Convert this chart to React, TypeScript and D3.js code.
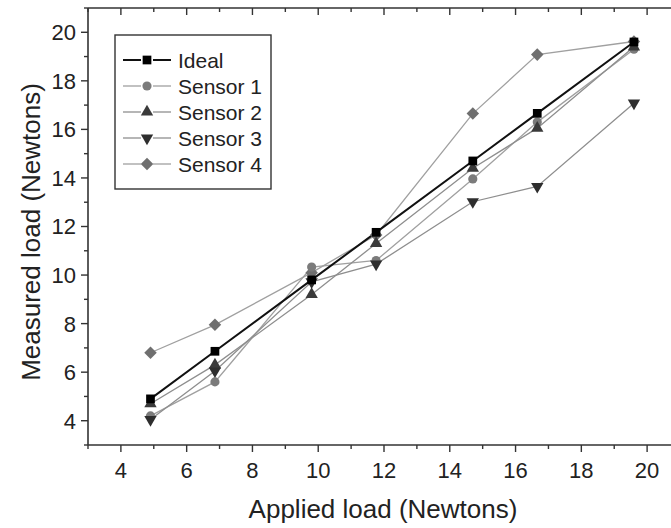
import React from "react";
import * as d3 from "d3";

const applied = [4.9, 6.86, 9.8, 11.76, 14.7, 16.66, 19.6];
const ideal = [4.9, 6.86, 9.8, 11.76, 14.7, 16.66, 19.6];
const sensor1 = [4.2, 5.6, 10.33, 10.6, 13.96, 16.3, 19.3];
const sensor2 = [4.7, 6.3, 9.2, 11.3, 14.4, 16.05, 19.4];
const sensor3 = [4.05, 6.05, 9.72, 10.45, 13.02, 13.65, 17.08];
const sensor4 = [6.8, 7.95, 10.1, 11.65, 16.65, 19.08, 19.62];
const seriesNames = ["Ideal", "Sensor 1", "Sensor 2", "Sensor 3", "Sensor 4"];
const xTickValues = [4, 6, 8, 10, 12, 14, 16, 18, 20];
const yTickValues = [4, 6, 8, 10, 12, 14, 16, 18, 20];

const W = 671;
const H = 528;
const FONT = "'Liberation Sans', Arial, Helvetica, sans-serif";

type Series = {
  name: string;
  values: number[];
  symbol: d3.SymbolType;
  size: number;
  rotate: number;
  fill: string;
  line: string;
  lw: number;
};

const series: Series[] = [
  { name: seriesNames[4], values: sensor4, symbol: d3.symbolDiamond2, size: 100, rotate: 0, fill: "#6f6f6f", line: "#a0a0a0", lw: 1.3 },
  { name: seriesNames[1], values: sensor1, symbol: d3.symbolCircle, size: 66, rotate: 0, fill: "#7b7b7b", line: "#a0a0a0", lw: 1.3 },
  { name: seriesNames[2], values: sensor2, symbol: d3.symbolTriangle, size: 66, rotate: 0, fill: "#3a3a3a", line: "#8e8e8e", lw: 1.3 },
  { name: seriesNames[3], values: sensor3, symbol: d3.symbolTriangle, size: 66, rotate: 180, fill: "#2e2e2e", line: "#8e8e8e", lw: 1.3 },
  { name: seriesNames[0], values: ideal, symbol: d3.symbolSquare, size: 76, rotate: 0, fill: "#000000", line: "#111111", lw: 2 },
];

const legendOrder = [0, 1, 2, 3, 4];

export default function App() {
  const x = d3.scaleLinear().domain([3, 21]).range([88, 680]);
  const y = d3.scaleLinear().domain([3, 21]).range([445, 8]);
  const minorX = d3.range(3, 22, 1);
  const minorY = d3.range(3, 22, 1);
  const lineGen = (vals: number[]) =>
    d3.line<number>().x((_, i) => x(applied[i])).y((v) => y(v))(vals) || "";
  const axisColor = "#333";

  return (
    <svg width={W} height={H} style={{ position: "absolute", left: 0, top: 0, background: "#fff" }} fontFamily={FONT}>
      <rect x={0} y={0} width={W} height={H} fill="#fff" />
      {/* frame */}
      <line x1={x(3)} x2={x(3)} y1={y(3)} y2={y(21)} stroke={axisColor} strokeWidth={1.6} />
      <line x1={x(3)} x2={x(21)} y1={y(3)} y2={y(3)} stroke={axisColor} strokeWidth={1.6} />
      <line x1={x(3)} x2={x(21)} y1={y(21)} y2={y(21)} stroke={axisColor} strokeWidth={1.6} />
      <line x1={x(21)} x2={x(21)} y1={y(3)} y2={y(21)} stroke={axisColor} strokeWidth={1.6} />
      {/* bottom ticks */}
      {minorX.map((v) => {
        const major = xTickValues.includes(v);
        return (
          <g key={"bx" + v}>
            <line x1={x(v)} x2={x(v)} y1={y(3)} y2={y(3) + (major ? 7 : 4)} stroke={axisColor} strokeWidth={1.4} />
            <line x1={x(v)} x2={x(v)} y1={y(21)} y2={y(21) + (major ? 7 : 4)} stroke={axisColor} strokeWidth={1.4} />
          </g>
        );
      })}
      {xTickValues.map((v) => (
        <text key={"xl" + v} x={x(v)} y={478} textAnchor="middle" fontSize={22} fill="#222">
          {v}
        </text>
      ))}
      {/* left ticks */}
      {minorY.map((v) => {
        const major = yTickValues.includes(v);
        return (
          <line key={"ly" + v} x1={x(3) - (major ? 7 : 4)} x2={x(3)} y1={y(v)} y2={y(v)} stroke={axisColor} strokeWidth={1.4} />
        );
      })}
      {yTickValues.map((v) => (
        <text key={"yl" + v} x={76} y={y(v)} dy="0.36em" textAnchor="end" fontSize={22} fill="#222">
          {v}
        </text>
      ))}
      {/* titles */}
      <text x={383} y={518} textAnchor="middle" fontSize={26} fill="#222">
        Applied load (Newtons)
      </text>
      <text transform={`translate(40,${232}) rotate(-90)`} textAnchor="middle" fontSize={26} fill="#222">
        Measured load (Newtons)
      </text>
      {/* lines */}
      {series.map((s) => (
        <path key={"p" + s.name} d={lineGen(s.values)} fill="none" stroke={s.line} strokeWidth={s.lw} />
      ))}
      {/* markers */}
      {series.map((s) =>
        s.values.map((v, i) => (
          <path
            key={"m" + s.name + i}
            d={d3.symbol().type(s.symbol).size(s.size)() || ""}
            transform={`translate(${x(applied[i])},${y(v)}) rotate(${s.rotate})`}
            fill={s.fill}
          />
        ))
      )}
      {/* legend */}
      <rect x={115} y={35} width={156} height={154} fill="#fff" stroke={axisColor} strokeWidth={1.4} />
      {legendOrder.map((idx, k) => {
        const s = series.find((q) => q.name === seriesNames[idx])!;
        const cy = 60 + k * 26;
        return (
          <g key={"lg" + idx}>
            <line x1={123} x2={141} y1={cy} y2={cy} stroke={s.line} strokeWidth={s.lw} />
            <line x1={153} x2={171} y1={cy} y2={cy} stroke={s.line} strokeWidth={s.lw} />
            <path d={d3.symbol().type(s.symbol).size(s.size)() || ""} transform={`translate(147,${cy}) rotate(${s.rotate})`} fill={s.fill} />
            <text x={178} y={cy} dy="0.36em" fontSize={21} fill="#222">
              {s.name}
            </text>
          </g>
        );
      })}
    </svg>
  );
}
